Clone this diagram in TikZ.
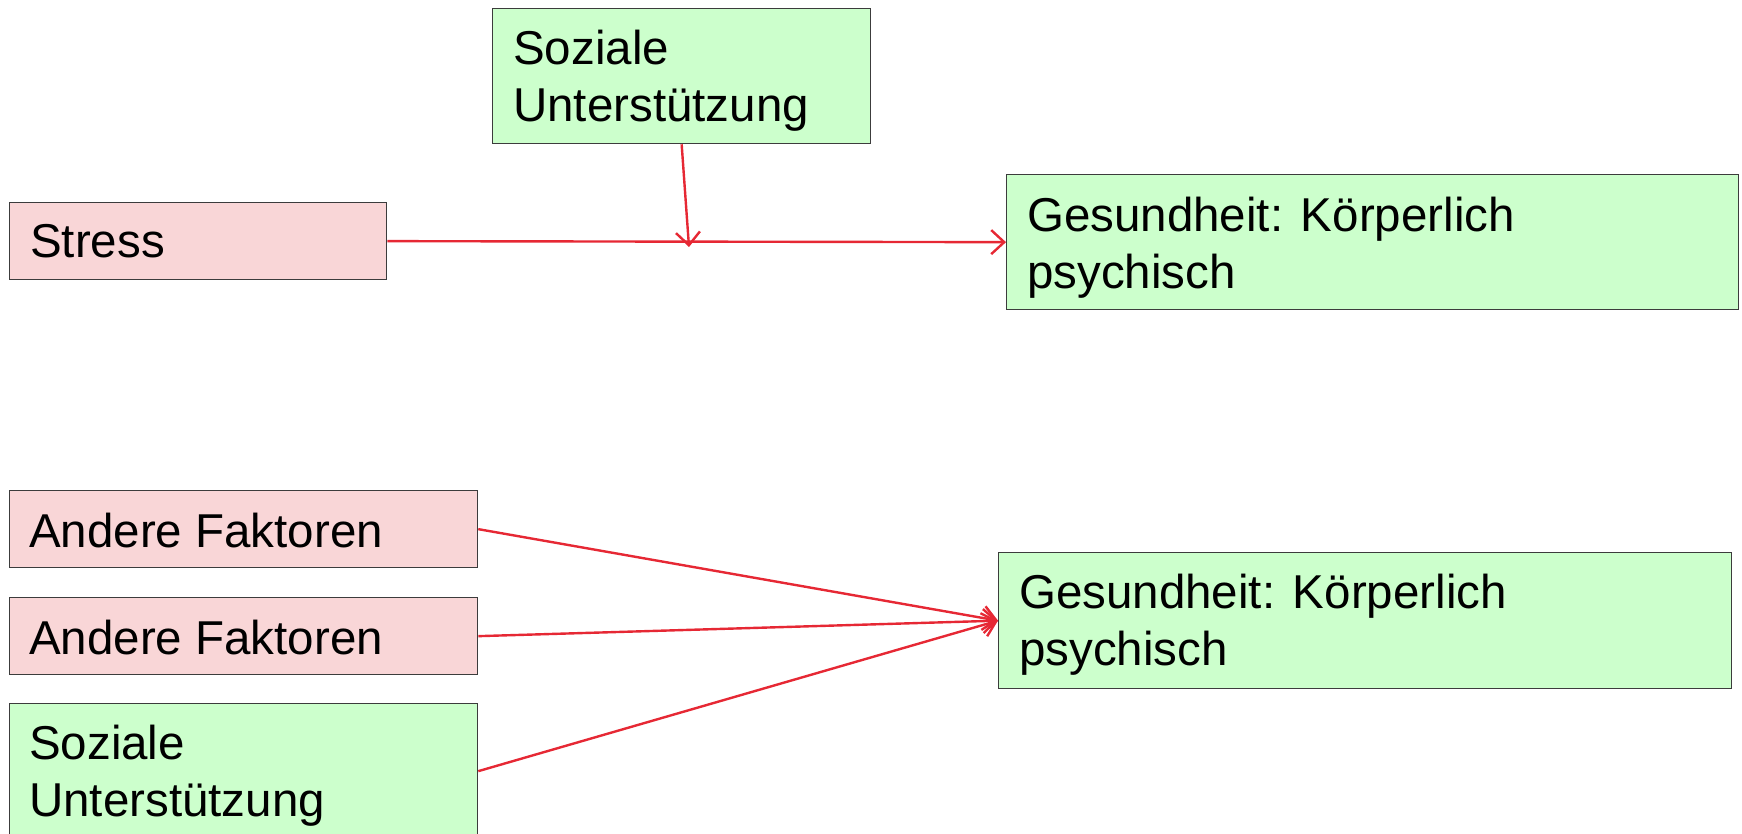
\documentclass[tikz,border=0pt]{standalone}
\usepackage{fontspec}
\setmainfont{Liberation Sans}
\usetikzlibrary{arrows.meta}
\definecolor{boxpink}{RGB}{249,214,215}
\definecolor{boxgreen}{RGB}{204,255,204}
\definecolor{arrred}{RGB}{230,40,52}
\definecolor{edgegray}{RGB}{60,60,60}
\tikzset{
  boxbase/.style={draw=edgegray, line width=1.3pt, inner sep=0pt, anchor=north west},
  pinkbox/.style={boxbase, fill=boxpink},
  greenbox/.style={boxbase, fill=boxgreen},
  txt/.style={inner sep=0pt, anchor=north west, align=left, font=\fontsize{47.5}{57}\selectfont},
  conn/.style={draw=arrred, line width=2.4pt, -{Straight Barb[length=13pt,width=24pt,line width=2.4pt]}}
}
\newcommand{\fl}{\vrule height 46pt depth 0pt width 0pt}
\begin{document}
\begin{tikzpicture}[x=1pt,y=-1pt]
\useasboundingbox (0,0) rectangle (1742,834);
% boxes
\node[greenbox, minimum width=378pt, minimum height=135pt] (sozT) at (492,8) {};
\node[pinkbox, minimum width=377pt, minimum height=77pt] (stress) at (9,202) {};
\node[greenbox, minimum width=732pt, minimum height=135pt] (ges1) at (1006,174) {};
\node[pinkbox, minimum width=468pt, minimum height=77pt] (and1) at (9,490) {};
\node[pinkbox, minimum width=468pt, minimum height=77pt] (and2) at (9,597) {};
\node[greenbox, minimum width=468pt, minimum height=135pt] (sozB) at (9,703) {};
\node[greenbox, minimum width=733pt, minimum height=136pt] (ges2) at (998,552) {};
% texts
\node[txt] (tsozT) at (513,18) {\fl Soziale\\Unterstützung};
\node[txt] (tstress) at (30,211) {\fl Stress};
\node[txt] (tges1) at (1027,185) {\fl Gesundheit: Körperlich\\psychisch};
\node[txt] (tand1) at (29,501) {\fl Andere Faktoren};
\node[txt] (tand2) at (29,608) {\fl Andere Faktoren};
\node[txt] (tsozB) at (29,713) {\fl Soziale\\Unterstützung};
\node[txt] (tges2) at (1019,562) {\fl Gesundheit: Körperlich\\psychisch};
% connectors
\coordinate (mod) at (689,247);
\draw[conn] (stress.east) -- (ges1.west);
\draw[conn] (sozT.south) -- (mod);
\draw[conn] (and1.east) -- (ges2.west);
\draw[conn] (and2.east) -- (ges2.west);
\draw[conn] (sozB.east) -- (ges2.west);
\end{tikzpicture}
\end{document}
